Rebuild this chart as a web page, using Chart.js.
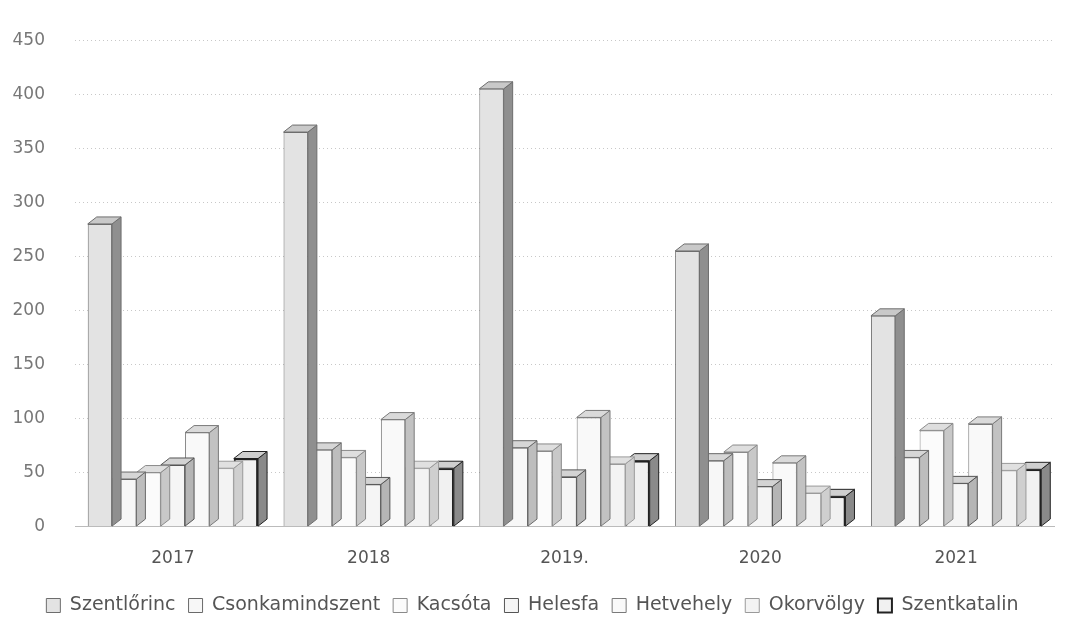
<!DOCTYPE html>
<html>
<head>
<meta charset="utf-8">
<script src="https://cdn.jsdelivr.net/npm/chart.js@4/dist/chart.umd.min.js"></script>
<style>
  html, body { margin: 0; padding: 0; background: #fff; }
  #wrap { width: 1078px; height: 625px; }
</style>
</head>
<body>
<div id="wrap"><canvas id="villageChart"></canvas></div>
<script>
// years on the x axis
var years = ["2017", "2018", "2019.", "2020", "2021"];

// one array per village
var szentlorinc = [280, 365, 405, 255, 195];
var csonkamindszent = [44, 71, 73, 61, 64];
var kacsota = [50, 64, 70, 69, 89];
var helesfa = [57, 39, 46, 37, 40];
var hetvehely = [87, 99, 101, 59, 95];
var okorvolgy = [54, 54, 58, 31, 52];
var szentkatalin = [63, 54, 61, 28, 53];

var villageNames = ["Szentlőrinc", "Csonkamindszent", "Kacsóta", "Helesfa", "Hetvehely", "Okorvölgy", "Szentkatalin"];
var villageValues = [szentlorinc, csonkamindszent, kacsota, helesfa, hetvehely, okorvolgy, szentkatalin];

// front / side / top shades, grey only like the scan
var frontColors = ["#e3e3e3", "#f7f7f7", "#fbfbfb", "#f5f5f5", "#f9f9f9", "#f3f3f3", "#f1f1f1"];
var sideColors  = ["#8f8f8f", "#bdbdbd", "#c8c8c8", "#b5b5b5", "#c2c2c2", "#cfcfcf", "#8a8a8a"];
var topColors   = ["#c9c9c9", "#d6d6d6", "#dedede", "#d3d3d3", "#dadada", "#e0e0e0", "#cfcfcf"];
var edgeColors  = ["#6d6d6d", "#6a6a6a", "#8a8a8a", "#555555", "#7a7a7a", "#9a9a9a", "#222222"];

var depthX = 9, depthY = 7;

// draws the side and the top of each bar just before the library paints the front
var depthPlugin = {
	id: "depthFaces",
	beforeDatasetDraw: function (chart, args) {
		var ctx = chart.ctx;
		var i = args.index;
		args.meta.data.forEach(function (bar) {
			var left = bar.x - bar.width / 2;
			var right = bar.x + bar.width / 2;
			var top = bar.y;
			var bottom = bar.base;
			ctx.save();
			ctx.lineWidth = 1;
			ctx.strokeStyle = edgeColors[i];
			//side face
			ctx.beginPath();
			ctx.moveTo(right, top);
			ctx.lineTo(right + depthX, top - depthY);
			ctx.lineTo(right + depthX, bottom - depthY);
			ctx.lineTo(right, bottom);
			ctx.closePath();
			ctx.fillStyle = sideColors[i];
			ctx.fill();
			ctx.stroke();
			//top face
			ctx.beginPath();
			ctx.moveTo(left, top);
			ctx.lineTo(left + depthX, top - depthY);
			ctx.lineTo(right + depthX, top - depthY);
			ctx.lineTo(right, top);
			ctx.closePath();
			ctx.fillStyle = topColors[i];
			ctx.fill();
			ctx.stroke();
			ctx.restore();
		});
	}
};

var datasets = villageNames.map(function (name, i) {
	return {
		label: name,
		data: villageValues[i],
		backgroundColor: frontColors[i],
		borderColor: edgeColors[i],
		borderWidth: i === 6 ? 2 : 1,
		categoryPercentage: 0.87,
		barPercentage: 1.0
	};
});

var ctx = document.getElementById("villageChart");
var myBarChart = new Chart(ctx, {
	type: "bar",
	data: { labels: years, datasets: datasets },
	options: {
		responsive: true,
		maintainAspectRatio: false,
		animation: false,
		layout: { padding: { left: 11, right: 24, top: 12, bottom: 0 } },
		plugins: {
			tooltip: { enabled: false },
			legend: {
				position: "bottom",
				labels: {
					boxWidth: 14,
					boxHeight: 14,
					padding: 13,
					color: "#555",
					font: { family: "DejaVu Sans", size: 19 }
				}
			}
		},
		scales: {
			x: {
				grid: { display: false },
				border: { display: true, color: "#bbb", dash: [1, 2] },
				ticks: { color: "#555", padding: 14, font: { family: "DejaVu Sans", size: 17 } }
			},
			y: {
				min: 0,
				max: 450,
				afterFit: function (scale) { scale.width = 64; },
				ticks: { stepSize: 50, color: "#777", padding: 30, font: { family: "DejaVu Sans", size: 17 } },
				grid: { color: "#c8c8c8", tickLength: 0 },
				border: { display: false, dash: [1, 3] }
			}
		}
	},
	plugins: [depthPlugin]
});
</script>
</body>
</html>
